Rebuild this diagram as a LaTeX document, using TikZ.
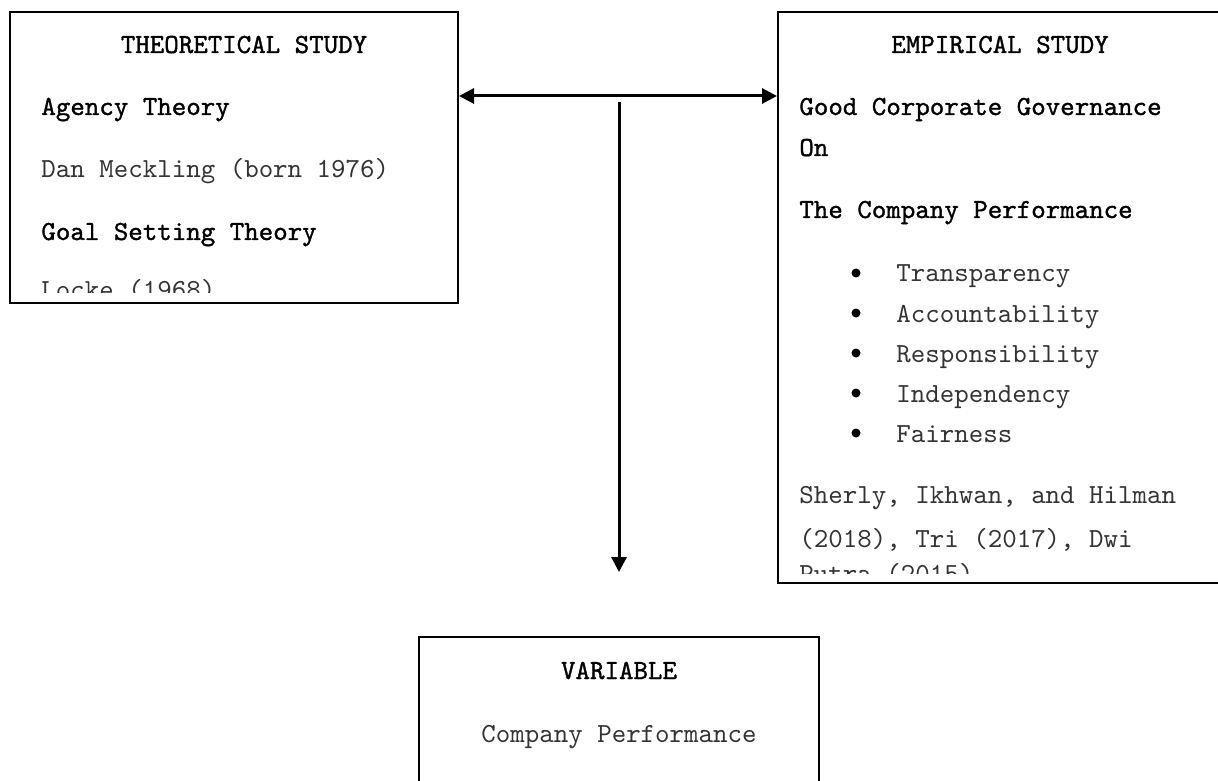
\documentclass[tikz,border=0pt]{standalone}
\usepackage{fontspec}
\newfontfamily\boxfont{lmmono10-regular.otf}
\newfontfamily\boxfontheavy{lmmono10-regular.otf}[FakeBold=1.2]
\usetikzlibrary{arrows.meta, positioning, fit}
\definecolor{lineBlack}{HTML}{000000}
\definecolor{inkSoft}{HTML}{333333}
\tikzset{
    panel/.style={draw=lineBlack, line width=1pt, inner sep=0pt},
    headtxt/.style={font=\boxfontheavy\fontsize{13.8}{16}\selectfont, text=lineBlack, inner sep=0pt},
    bodytxt/.style={font=\boxfont\fontsize{13.8}{16}\selectfont, text=inkSoft, inner sep=0pt},
    conn/.style={draw=lineBlack, line width=1.5pt},
    tip/.tip={Triangle[length=7.5pt, width=7.5pt]}
}

\begin{document}
\begin{tikzpicture}[x=0.5pt, y=-0.5pt]
    \clip (0,0) rectangle (1218,780);
    % --- BOXES ---
    \node[panel, fit={(10,12) (458,303)}] (theory) {};
    \node[panel, fit={(778,12) (1240,583)}] (empirical) {};
    \node[panel, fit={(419,637) (819,800)}] (variable) {};

    % --- THEORETICAL STUDY ---
    \begin{scope}
        \clip (10,12) rectangle (458,292);
        \node[headtxt, anchor=base] (thTitle) at (244,53) {THEORETICAL STUDY};
        \node[headtxt, anchor=base west] (agency) at (41,115) {Agency Theory};
        \node[bodytxt, anchor=base west] (meckling) at (41,178) {Dan Meckling (born 1976)};
        \node[headtxt, anchor=base west] (goal) at (41,240) {Goal Setting Theory};
        \node[bodytxt, anchor=base west] (locke) at (41,299) {Locke (1968)};
    \end{scope}

    % --- EMPIRICAL STUDY ---
    \begin{scope}
        \clip (778,12) rectangle (1218,573);
        \node[headtxt, anchor=base] (emTitle) at (1000,53) {EMPIRICAL STUDY};
        \node[headtxt, anchor=base west] (gcg) at (799,115) {Good Corporate Governance};
        \node[headtxt, anchor=base west] (on) at (799,156) {On};
        \node[headtxt, anchor=base west] (perf) at (799,218) {The Company Performance};
        % bullet list
        \foreach \word [count=\i] in {Transparency, Accountability, Responsibility, Independency, Fairness} {
            \node[circle, fill=lineBlack, inner sep=0pt, minimum size=4.5pt] (dot\i) at (856,273+40*\i-40) {};
            \node[bodytxt, anchor=base west] (pt\i) at (896,282+40*\i-40) {\word};
        }
        \node[bodytxt, anchor=base west] (ref1) at (799,503) {Sherly, Ikhwan, and Hilman};
        \node[bodytxt, anchor=base west] (ref2) at (799,547) {(2018), Tri (2017), Dwi};
        \node[bodytxt, anchor=base west] (ref3) at (799,582) {Putra (2015)};
    \end{scope}

    % --- VARIABLE ---
    \node[headtxt, anchor=base] (varTitle) at (619,679) {VARIABLE};
    \node[bodytxt, anchor=base] (varName) at (619,742) {Company Performance};

    % --- ARROWS ---
    \coordinate (link) at (619,96);
    \draw[conn, tip-tip] (theory.east |- link) -- (empirical.west |- link);
    \coordinate (dropTop) at (619,102);
    \coordinate (dropEnd) at (619,572);
    \draw[conn, -tip] (dropTop) -- (dropEnd);
\end{tikzpicture}
\end{document}
